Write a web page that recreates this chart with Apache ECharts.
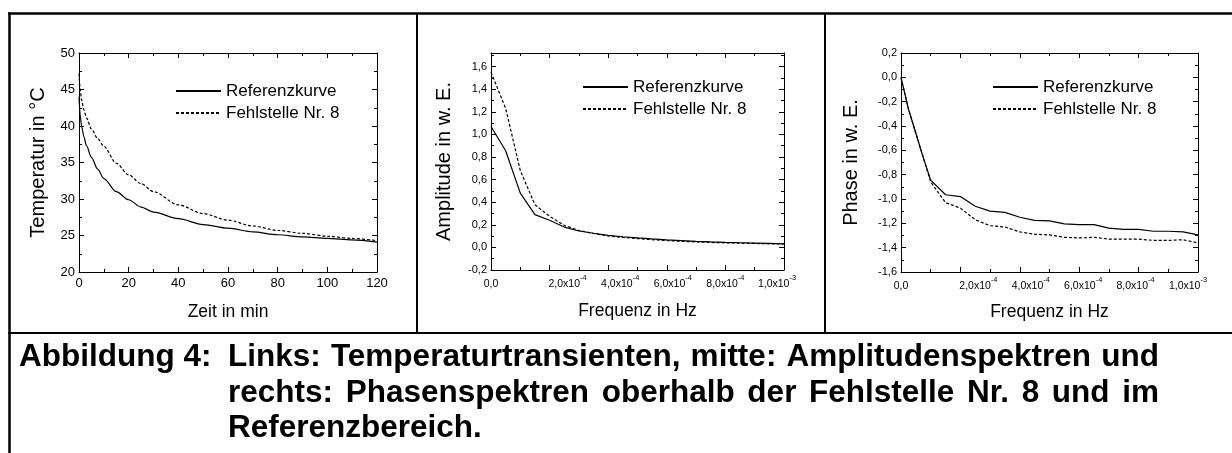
<!DOCTYPE html>
<html>
<head>
<meta charset="utf-8">
<script src="https://cdn.jsdelivr.net/npm/echarts@6/dist/echarts.min.js"></script>
<style>
html,body{margin:0;padding:0;background:#fff;}
#c{width:1232px;height:453px;}
</style>
</head>
<body>
<div id="c"></div>
<script>
// ---- Data ----
const seriesNames = ['Referenzkurve', 'Fehlstelle Nr. 8'];

// Left: temperature transients
const timeMin = [0, 0.5, 1, 2, 3, 5, 7.5, 10, 15, 20, 25, 30, 40, 50, 60, 70, 80, 90, 100, 110, 120];
const tempRef = [44.0, 41.5, 40.0, 38.5, 37.3, 35.7, 34.1, 32.8, 31.0, 29.9, 28.9, 28.2, 27.3, 26.5, 26.0, 25.5, 25.1, 24.8, 24.6, 24.4, 24.1];
const tempDef = [47.2, 45.0, 43.6, 42.2, 41.1, 39.6, 38.3, 37.2, 34.9, 33.3, 32.1, 31.0, 29.2, 28.0, 27.1, 26.3, 25.7, 25.3, 24.9, 24.6, 24.3];

// Middle: amplitude spectra
const freqAmp = [0, 5e-5, 1e-4, 1.5e-4, 2e-4, 2.5e-4, 3e-4, 3.5e-4, 4e-4, 4.5e-4, 5e-4, 5.5e-4, 6e-4, 6.5e-4, 7e-4, 7.5e-4, 8e-4, 8.5e-4, 9e-4, 9.5e-4, 1e-3];
const ampRef = [1.07, 0.855, 0.48, 0.29, 0.24, 0.18, 0.145, 0.125, 0.107, 0.094, 0.084, 0.075, 0.067, 0.060, 0.053, 0.048, 0.044, 0.041, 0.038, 0.035, 0.032];
const ampDef = [1.55, 1.23, 0.68, 0.377, 0.275, 0.195, 0.150, 0.123, 0.102, 0.088, 0.078, 0.068, 0.060, 0.054, 0.048, 0.044, 0.040, 0.037, 0.035, 0.032, 0.030];

// Right: phase spectra
const freqPhase = [0, 2.5e-5, 5e-5, 7.5e-5, 1e-4, 1.5e-4, 2e-4, 2.5e-4, 3e-4, 3.5e-4, 4e-4, 4.5e-4, 5e-4, 5.5e-4, 6e-4, 6.5e-4, 7e-4, 7.5e-4, 8e-4, 8.5e-4, 9e-4, 9.5e-4, 1e-3];
const phaseRef = [0.0, -0.26, -0.46, -0.66, -0.845, -0.965, -0.98, -1.06, -1.10, -1.11, -1.15, -1.175, -1.18, -1.205, -1.21, -1.21, -1.24, -1.25, -1.25, -1.265, -1.265, -1.27, -1.295];
const phaseDef = [0.0, -0.26, -0.46, -0.66, -0.86, -1.03, -1.075, -1.17, -1.22, -1.23, -1.27, -1.29, -1.295, -1.315, -1.32, -1.315, -1.33, -1.33, -1.33, -1.34, -1.34, -1.335, -1.36];

// Texts
const axisTitles = {
  leftX: 'Zeit in min', leftY: 'Temperatur in °C',
  midX: 'Frequenz in Hz', midY: 'Amplitude in w. E.',
  rightX: 'Frequenz in Hz', rightY: 'Phase in w. E.'
};
const captionLabel = 'Abbildung 4:';
const captionLines = [
  'Links: Temperaturtransienten, mitte: Amplitudenspektren und',
  'rechts: Phasenspektren oberhalb der Fehlstelle Nr. 8 und im',
  'Referenzbereich.'
];

// ---- Chart ----
const FONT = '"Liberation Sans", Arial, Helvetica, sans-serif';
const zip = (xs, ys) => xs.map((x, i) => [x, ys[i]]);
const dec1 = v => v.toFixed(1).replace('.', ',');
const intFmt = v => String(Math.round(v));

// label horizontal nudges (px) of the frequency tick labels, as drawn in the original
const labelShift = [[0, 18, 12, 6, 0, -7], [0, 18, 11, 4, -3, -10]];
function sciFmtFactory(shifts) {
  return function (v) {
    const k = Math.round(v / 2e-4);
    const d = shifts[k] || 0;
    if (Math.abs(v) < 1e-12) return '{b|0,0}';
    const e = Math.floor(Math.log10(v) + 1e-6);
    const m = v / Math.pow(10, e);
    const base = m.toFixed(1).replace('.', ',') + 'x10';
    if (d >= 0) return '{bL' + Math.round(2 * d) + '|' + base + '}{s|' + e + '}';
    return '{b|' + base + '}{sR' + Math.round(-2 * d) + '|' + e + '}';
  };
}
function richFor(shifts) {
  const r = {
    b: {fontSize: 10.5, fontFamily: FONT, color: '#000', lineHeight: 16, verticalAlign: 'bottom'},
    s: {fontSize: 7.5, fontFamily: FONT, color: '#000', lineHeight: 8, verticalAlign: 'top'}
  };
  shifts.forEach(d => {
    const p = Math.round(Math.abs(2 * d));
    r['bL' + p] = {fontSize: 10.5, fontFamily: FONT, color: '#000', lineHeight: 16, verticalAlign: 'bottom', padding: [0, 0, 0, p]};
    r['sR' + p] = {fontSize: 7.5, fontFamily: FONT, color: '#000', lineHeight: 8, verticalAlign: 'top', padding: [0, p, 0, 0]};
  });
  return r;
}

const grids = [
  {left: 79, top: 53, width: 298, height: 219},
  {left: 491, top: 53, width: 293, height: 217},
  {left: 901, top: 53, width: 297, height: 219}
];

function baseAxis(extra) {
  return Object.assign({
    axisLine: {show: true, onZero: false, lineStyle: {color: '#000', width: 1}},
    axisTick: {show: true, inside: true, length: 5, lineStyle: {color: '#000', width: 1}},
    minorTick: {show: true, splitNumber: 2, length: 3, lineStyle: {color: '#000', width: 1}},
    splitLine: {show: false},
    axisLabel: {fontSize: 13, fontFamily: FONT, color: '#000'}
  }, extra);
}

const specs = [
  {x: [0, 120, 20], y: [20, 50, 5], yf: intFmt, xn: axisTitles.leftX, yn: axisTitles.leftY, xg: 31, yg: 31, lbl: 13},
  {x: [0, 1e-3, 2e-4], y: [-0.2, 1.72, 0.2], yf: dec1, xn: axisTitles.midX, yn: axisTitles.midY, xg: 32, yg: 37, lbl: 11, shift: labelShift[0]},
  {x: [0, 1e-3, 2e-4], y: [-1.6, 0.2, 0.2], yf: dec1, xn: axisTitles.rightX, yn: axisTitles.rightY, xg: 31, yg: 40, lbl: 11, shift: labelShift[1]}
];

const xAxes = [], yAxes = [];
specs.forEach((s, i) => {
  xAxes.push(baseAxis({
    type: 'value', gridIndex: i, position: 'bottom', min: s.x[0], max: s.x[1], interval: s.x[2],
    name: s.xn, nameLocation: 'middle', nameGap: s.xg,
    nameTextStyle: {fontSize: 17.5, fontFamily: FONT, color: '#000'},
    axisLabel: s.shift
      ? {formatter: sciFmtFactory(s.shift), rich: richFor(s.shift), margin: 4}
      : {formatter: intFmt, fontSize: 13, fontFamily: FONT, color: '#000', margin: 5}
  }));
  xAxes.push(baseAxis({
    type: 'value', gridIndex: i, position: 'top', min: s.x[0], max: s.x[1], interval: s.x[2],
    axisLabel: {show: false}
  }));
  yAxes.push(baseAxis({
    type: 'value', gridIndex: i, position: 'left', min: s.y[0], max: s.y[1], interval: s.y[2],
    name: s.yn, nameLocation: 'middle', nameGap: s.yg,
    nameTextStyle: {fontSize: 20, fontFamily: FONT, color: '#000'},
    axisLabel: {formatter: s.yf, fontSize: s.lbl, fontFamily: FONT, color: '#000', margin: 4, showMaxLabel: i !== 1}
  }));
  yAxes.push(baseAxis({
    type: 'value', gridIndex: i, position: 'right', min: s.y[0], max: s.y[1], interval: s.y[2],
    axisLabel: {show: false}
  }));
});

const solid = {color: '#000', width: 1.2, type: 'solid'};
const dashed = {color: '#000', width: 1.2, type: [3, 2]};
function mkSeries(name, gi, data, ls) {
  return {
    type: 'line', name: name, xAxisIndex: gi * 2, yAxisIndex: gi * 2, data: data,
    symbol: 'none', showSymbol: false, lineStyle: ls, itemStyle: {color: '#000'},
    smooth: gi === 0 ? 0.3 : false, smoothMonotone: 'x', z: 3
  };
}
const series = [
  mkSeries(seriesNames[0], 0, zip(timeMin, tempRef), solid),
  mkSeries(seriesNames[1], 0, zip(timeMin, tempDef), dashed),
  mkSeries(seriesNames[0], 1, zip(freqAmp, ampRef), solid),
  mkSeries(seriesNames[1], 1, zip(freqAmp, ampDef), dashed),
  mkSeries(seriesNames[0], 2, zip(freqPhase, phaseRef), solid),
  mkSeries(seriesNames[1], 2, zip(freqPhase, phaseDef), dashed)
];

const legendPos = [{left: 175, top: 81}, {left: 582, top: 77}, {left: 992, top: 77}];
const legends = legendPos.map(p => ({
  data: seriesNames, orient: 'vertical', left: p.left, top: p.top,
  itemWidth: 45, itemHeight: 12, itemGap: 2, padding: 0, selectedMode: false,
  itemStyle: {opacity: 0, borderWidth: 0},
  textStyle: {fontSize: 17, fontFamily: FONT, color: '#000', lineHeight: 20}
}));

const frameLine = (x1, y1, x2, y2, w) => ({
  type: 'line', silent: true, z: 10,
  shape: {x1: x1, y1: y1, x2: x2, y2: y2},
  style: {stroke: '#000', lineWidth: w}
});
const CAP_SIZE = 31.5;
const capText = (t, x, y) => ({
  type: 'text', silent: true, x: x, y: y,
  style: {text: t, fill: '#000', fontSize: CAP_SIZE, fontWeight: 'bold', fontFamily: FONT, verticalAlign: 'middle', align: 'left'}
});
// justified caption lines (block-set like the original document)
const measureCtx = document.createElement('canvas').getContext('2d');
measureCtx.font = 'bold ' + CAP_SIZE + 'px ' + FONT;
function justifiedLine(text, x0, x1, y) {
  const words = text.split(' ');
  const ws = words.map(w => measureCtx.measureText(w).width);
  const total = ws.reduce((a, b) => a + b, 0);
  const gap = (x1 - x0 - total) / (words.length - 1);
  const out = [];
  let x = x0;
  words.forEach((w, i) => { out.push(capText(w, x, y)); x += ws[i] + gap; });
  return out;
}

const graphic = [
  frameLine(8, 13.5, 1232, 13.5, 2.5),
  frameLine(9.5, 12.5, 9.5, 453, 2.5),
  frameLine(8, 333, 1232, 333, 2),
  frameLine(417, 13, 417, 333, 2),
  frameLine(825, 13, 825, 333, 2),
  capText(captionLabel, 19, 357)
].concat(
  justifiedLine(captionLines[0], 228, 1159, 357),
  justifiedLine(captionLines[1], 228, 1159, 393),
  [capText(captionLines[2], 228, 428)]
);

const chart = echarts.init(document.getElementById('c'), null, {renderer: 'canvas'});
chart.setOption({
  animation: false,
  backgroundColor: '#fff',
  textStyle: {fontFamily: FONT},
  grid: grids,
  xAxis: xAxes,
  yAxis: yAxes,
  legend: legends,
  series: series,
  graphic: graphic
});
</script>
</body>
</html>
